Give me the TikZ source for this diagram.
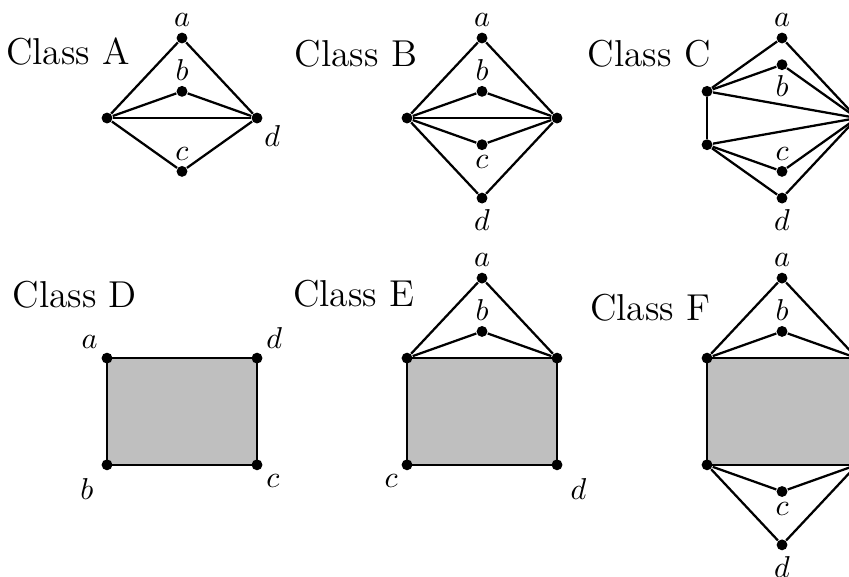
\documentclass[tikz,border=0pt]{standalone}
\begin{document}
\begin{tikzpicture}[
    x=0.873cm, y=0.3105cm,
    every label/.style={inner sep=1.5pt},
    vtx/.style={circle, fill=black, inner sep=0pt, minimum size=3.6pt},
    edge/.style={line width=0.75pt, black},
    face/.style={line width=0.75pt, draw=black, fill=gray!50},
    classname/.style={font=\fontsize{12.4}{15}\selectfont},
]
\clip (-1.4267, 4.425) rectangle (9.893, -17.17);
% Class A
\node[classname] (tA) at (-0.52, 2.5) {Class A};
\node[vtx] (Al) at (0, 0) {};
\node[vtx, label={[label distance=-1pt]below right:$d$}] (Ar) at (2, 0) {};
\node[vtx, label=above:$a$] (Aa) at (1, 3) {};
\node[vtx, label=above:$b$] (Ab) at (1, 1) {};
\node[vtx, label=above:$c$] (Ac) at (1, -2) {};
\draw[edge] (Al) -- (Aa) -- (Ar);
\draw[edge] (Al) -- (Ab) -- (Ar);
\draw[edge] (Al) -- (Ac) -- (Ar);
\draw[edge] (Al) -- (Ar);
% Class B
\node[classname] (tB) at (3.32, 2.4) {Class B};
\node[vtx] (Bl) at (4, 0) {};
\node[vtx] (Br) at (6, 0) {};
\node[vtx, label=above:$a$] (Ba) at (5, 3) {};
\node[vtx, label=above:$b$] (Bb) at (5, 1) {};
\node[vtx, label=below:$c$] (Bc) at (5, -1) {};
\node[vtx, label=below:$d$] (Bd) at (5, -3) {};
\draw[edge] (Bl) -- (Ba) -- (Br);
\draw[edge] (Bl) -- (Bb) -- (Br);
\draw[edge] (Bl) -- (Bc) -- (Br);
\draw[edge] (Bl) -- (Bd) -- (Br);
\draw[edge] (Bl) -- (Br);
% Class C
\node[classname] (tC) at (7.23, 2.4) {Class C};
\node[vtx] (Cu) at (8, 1) {};
\node[vtx] (Cw) at (8, -1) {};
\node[vtx] (Cr) at (10, 0) {};
\node[vtx, label=above:$a$] (Ca) at (9, 3) {};
\node[vtx, label=below:$b$] (Cb) at (9, 2) {};
\node[vtx, label=above:$c$] (Cc) at (9, -2) {};
\node[vtx, label=below:$d$] (Cd) at (9, -3) {};
\draw[edge] (Cu) -- (Ca) -- (Cr);
\draw[edge] (Cu) -- (Cb) -- (Cr);
\draw[edge] (Cw) -- (Cc) -- (Cr);
\draw[edge] (Cw) -- (Cd) -- (Cr);
\draw[edge] (Cu) -- (Cr);
\draw[edge] (Cw) -- (Cr);
\draw[edge] (Cu) -- (Cw);
% Class D
\node[classname] (tD) at (-0.43, -6.64) {Class D};
\coordinate (Dtl) at (0, -9);
\coordinate (Dbr) at (2, -13);
\draw[face] (Dtl) rectangle (Dbr);
\node[vtx, label=above left:$a$] (Da) at (0, -9) {};
\node[vtx, label=above right:$d$] (Dd) at (2, -9) {};
\node[vtx, label={[label distance=2pt]below left:$b$}] (Db) at (0, -13) {};
\node[vtx, label=below right:$c$] (Dc) at (2, -13) {};
% Class E
\node[classname] (tE) at (3.29, -6.6) {Class E};
\coordinate (Etl) at (4, -9);
\coordinate (Ebr) at (6, -13);
\draw[face] (Etl) rectangle (Ebr);
\node[vtx] (El) at (4, -9) {};
\node[vtx] (Er) at (6, -9) {};
\node[vtx, label=below left:$c$] (Ec) at (4, -13) {};
\node[vtx, label={[label distance=2pt]below right:$d$}] (Ed) at (6, -13) {};
\node[vtx, label=above:$a$] (Ea) at (5, -6) {};
\node[vtx, label=above:$b$] (Eb) at (5, -8) {};
\draw[edge] (El) -- (Ea) -- (Er);
\draw[edge] (El) -- (Eb) -- (Er);
% Class F
\node[classname] (tF) at (7.24, -7.1) {Class F};
\coordinate (Ftl) at (8, -9);
\coordinate (Fbr) at (10, -13);
\draw[face] (Ftl) rectangle (Fbr);
\node[vtx] (Ful) at (8, -9) {};
\node[vtx] (Fur) at (10, -9) {};
\node[vtx] (Fll) at (8, -13) {};
\node[vtx] (Flr) at (10, -13) {};
\node[vtx, label=above:$a$] (Fa) at (9, -6) {};
\node[vtx, label=above:$b$] (Fb) at (9, -8) {};
\node[vtx, label=below:$c$] (Fc) at (9, -14) {};
\node[vtx, label=below:$d$] (Fd) at (9, -16) {};
\draw[edge] (Ful) -- (Fa) -- (Fur);
\draw[edge] (Ful) -- (Fb) -- (Fur);
\draw[edge] (Fll) -- (Fc) -- (Flr);
\draw[edge] (Fll) -- (Fd) -- (Flr);
\end{tikzpicture}
\end{document}
